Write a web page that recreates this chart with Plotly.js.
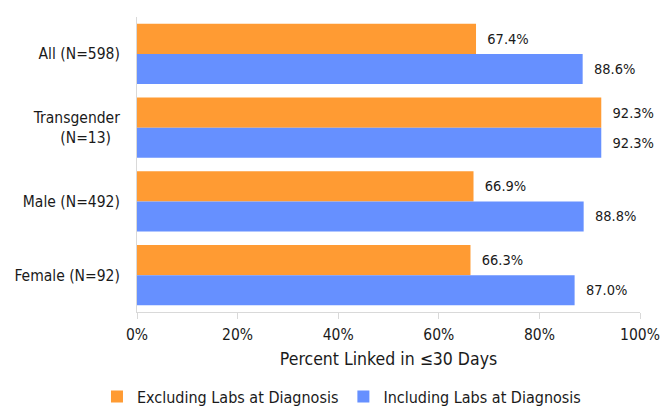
<!DOCTYPE html>
<html><head><meta charset="utf-8">
<script src="https://cdn.plot.ly/plotly-3.0.1.min.js"></script>
<style>html,body{margin:0;padding:0;background:#fff;}#chart{width:662px;height:408px;}</style>
</head><body><div id="chart"></div>
<script>
const categories = ["All (N=598)", "Transgender<br>(N=13)", "Male (N=492)", "Female (N=92)"];
const tickLabels = ["All (N=598)", "Transgender<br>(N=13)\u00A0\u00A0", "Male (N=492)", "Female (N=92)"];
const excludingLabs = [0.674, 0.923, 0.669, 0.663];
const includingLabs = [0.886, 0.923, 0.888, 0.870];
const seriesNames = ["Excluding Labs at Diagnosis", "Including Labs at Diagnosis"];
const xTickVals = [0, 0.2, 0.4, 0.6, 0.8, 1.0];
const xTickText = ["0%", "20%", "40%", "60%", "80%", "100%"];

const fontFam = "'DejaVu Sans Condensed', 'DejaVu Sans', sans-serif";
const fmt = v => "\u00A0\u00A0" + (v*100).toFixed(1) + "%";

const traces = [
  {type:'bar', orientation:'h', name:seriesNames[0], y:categories, x:excludingLabs,
   marker:{color:'#FF9B33'}, text:excludingLabs.map(fmt), textposition:'outside',
   textfont:{family:fontFam, size:14.5, color:'#1a1a1a'}, cliponaxis:false},
  {type:'bar', orientation:'h', name:seriesNames[1], y:categories, x:includingLabs,
   marker:{color:'#6690FF'}, text:includingLabs.map(fmt), textposition:'outside',
   textfont:{family:fontFam, size:14.5, color:'#1a1a1a'}, cliponaxis:false}
];

const layout = {
  width:662, height:408,
  margin:{l:137, r:22, t:17, b:96, autoexpand:false},
  paper_bgcolor:'#fff', plot_bgcolor:'#fff',
  font:{family:fontFam, size:15.5, color:'#1a1a1a'},
  barmode:'group', bargap:0.18, bargroupgap:0,
  xaxis:{range:[0,1], tickvals:xTickVals, ticktext:xTickText, showgrid:false, zeroline:false,
    showline:true, linecolor:'#d9d9d9', linewidth:1, ticks:'outside', ticklen:6, tickcolor:'#d9d9d9',
    tickfont:{size:15.5}, automargin:false, ticklabelstandoff:2,
    title:{text:'Percent Linked in ≤30 Days', font:{size:17.5}, standoff:10}},
  yaxis:{autorange:'reversed', showgrid:false, zeroline:false, showline:true, linecolor:'#d9d9d9',
    linewidth:1, ticks:'', tickvals:categories, ticktext:tickLabels, tickfont:{size:15.5},
    ticklabelstandoff:13, automargin:false},
  legend:{orientation:'h', xref:'container', x:0.1465, xanchor:'left', yref:'container', y:0.028, yanchor:'middle',
    font:{size:16}, traceorder:'normal', bgcolor:'rgba(0,0,0,0)'},
  showlegend:true
};
Plotly.newPlot('chart', traces, layout, {displayModeBar:false, staticPlot:true});
</script></body></html>
